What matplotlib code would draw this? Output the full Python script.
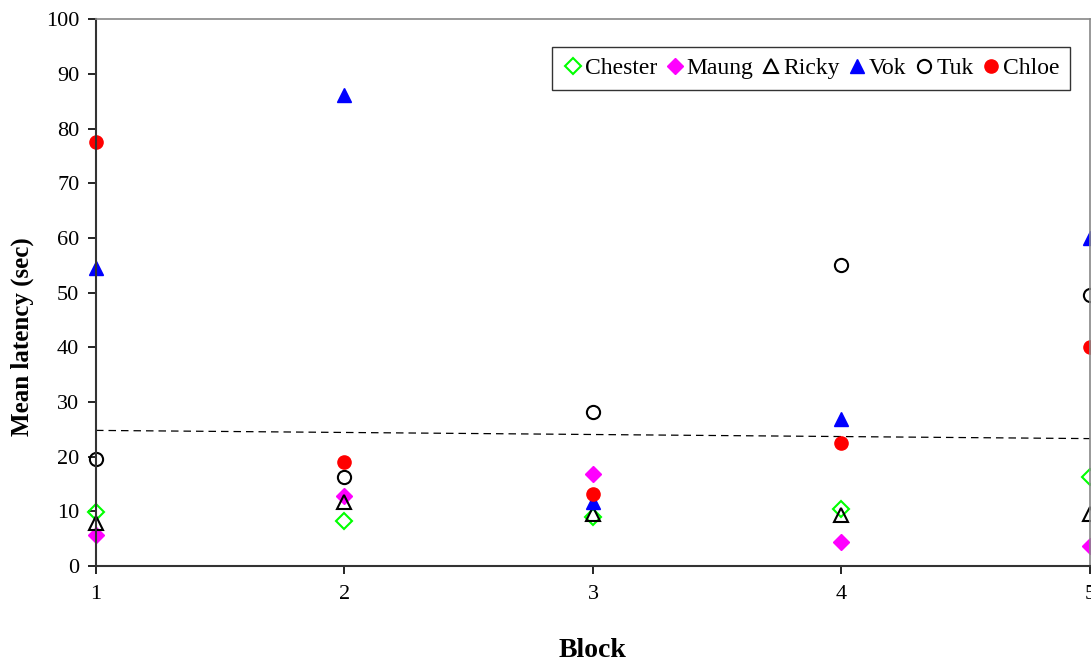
import matplotlib.pyplot as plt
import numpy as np

plt.rcParams['font.family'] = ['Liberation Serif', 'DejaVu Serif']

blocks = [1, 2, 3, 4, 5]
chester = [9.9, 8.2, 9.0, 10.5, 16.2]
maung = [5.6, 12.8, 16.8, 4.3, 3.6]
ricky = [7.8, 11.7, 9.5, 9.4, 9.6]
vok = [54.5, 86.1, 11.7, 26.9, 60.0]
tuk = [19.6, 16.3, 28.1, 55.0, 49.5]
chloe = [77.6, 19.1, 13.2, 22.5, 40.0]

trend_x = [1, 5]
trend_y = [24.8, 23.3]

if __name__ == '__main__':
    fig = plt.figure(figsize=(10.91, 6.62), dpi=100)
    ax = fig.add_axes([0.088, 0.145, 0.911, 0.826])

    ms = 9.5
    ax.plot(trend_x, trend_y, '--', color='black', lw=0.9, dashes=(6, 4), zorder=1)
    ax.plot(blocks, chester, 'D', ms=ms - 1.5, mfc='none', mec='#00ff00', mew=1.5,
            ls='none', label='Chester', clip_on=False)
    ax.plot(blocks, maung, 'D', ms=ms - 1.5, mfc='#ff00ff', mec='#ff00ff',
            ls='none', label='Maung', clip_on=False)
    ax.plot(blocks, ricky, '^', ms=ms, mfc='none', mec='black', mew=1.5,
            ls='none', label='Ricky', clip_on=False)
    ax.plot(blocks, vok, '^', ms=ms, mfc='#0000ff', mec='#0000ff',
            ls='none', label='Vok', clip_on=False)
    ax.plot(blocks, tuk, 'o', ms=ms, mfc='none', mec='black', mew=1.5,
            ls='none', label='Tuk', clip_on=False)
    ax.plot(blocks, chloe, 'o', ms=ms, mfc='#ff0000', mec='#ff0000',
            ls='none', label='Chloe', clip_on=False)

    ax.set_xlim(1, 5)
    ax.set_ylim(0, 100)
    ax.set_xticks(blocks)
    ax.set_yticks(np.arange(0, 101, 10))
    ax.tick_params(axis='both', direction='out', length=6, width=1.2, labelsize=16)
    ax.tick_params(axis='x', pad=8)
    ax.tick_params(axis='y', pad=6)

    for s in ['left', 'bottom']:
        ax.spines[s].set_color('#333333')
        ax.spines[s].set_linewidth(1.5)
    for s in ['top', 'right']:
        ax.spines[s].set_color('#888888')
        ax.spines[s].set_linewidth(1.2)

    ax.set_xlabel('Block', fontsize=20, fontweight='bold', labelpad=24)
    ax.set_ylabel('Mean latency (sec)', fontsize=18, fontweight='bold')
    ax.yaxis.set_label_coords(-0.062, 0.42)

    leg = ax.legend(loc='upper right', bbox_to_anchor=(0.98, 0.949), ncol=6,
                    fontsize=17, frameon=True, fancybox=False, edgecolor='black',
                    handletextpad=0.05, columnspacing=0.3, handlelength=0.9,
                    borderpad=0.45, borderaxespad=0)
    leg.get_frame().set_linewidth(1.0)

    plt.savefig('out.png', dpi=100)
